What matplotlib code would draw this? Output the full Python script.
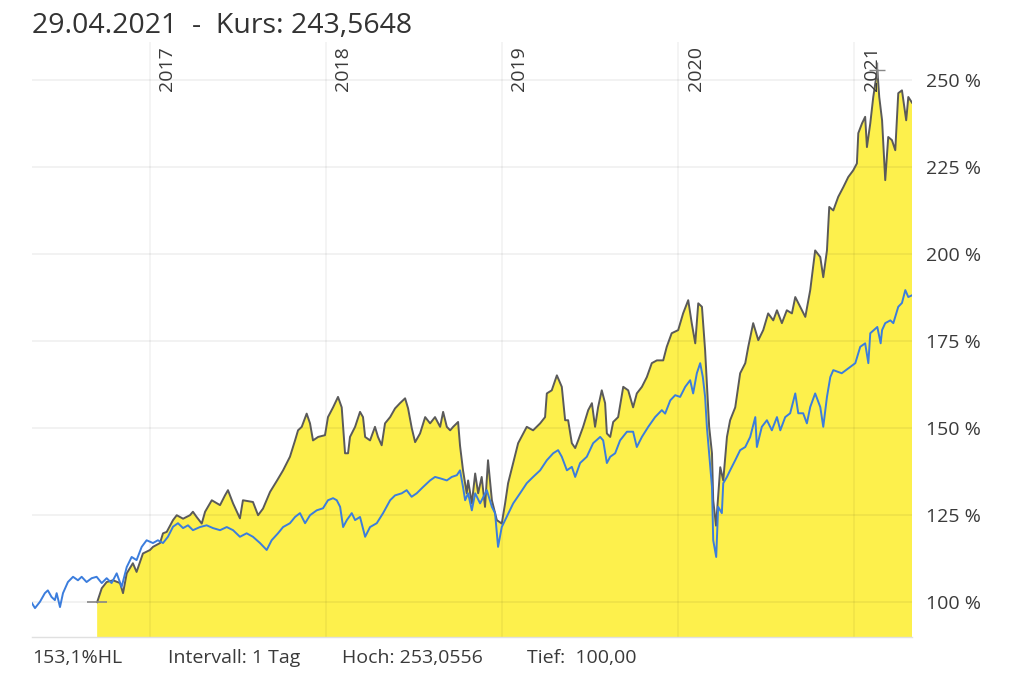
import matplotlib
matplotlib.use("Agg")
import matplotlib.pyplot as plt
import matplotlib.transforms as mtransforms
import numpy as np

plt.rcParams['font.family'] = ['Open Sans', 'DejaVu Sans']

#######################################
#### Data (decimal years, % of start)
#######################################
fund_t = [2016.700, 2016.726, 2016.754, 2016.790, 2016.830, 2016.847, 2016.868, 2016.903,
          2016.924, 2016.960, 2017.000, 2017.017, 2017.057, 2017.074, 2017.095, 2017.131,
          2017.152, 2017.188, 2017.227, 2017.244, 2017.265, 2017.294, 2017.313, 2017.351,
          2017.398, 2017.426, 2017.443, 2017.472, 2017.511, 2017.528, 2017.585, 2017.614,
          2017.642, 2017.682, 2017.722, 2017.756, 2017.795, 2017.824, 2017.841, 2017.862,
          2017.890, 2017.909, 2017.926, 2017.955, 2017.994, 2018.011, 2018.040, 2018.068,
          2018.089, 2018.108, 2018.125, 2018.136, 2018.165, 2018.193, 2018.210, 2018.222,
          2018.250, 2018.278, 2018.295, 2018.316, 2018.335, 2018.364, 2018.392, 2018.420,
          2018.449, 2018.466, 2018.487, 2018.506, 2018.534, 2018.563, 2018.591, 2018.619,
          2018.648, 2018.665, 2018.686, 2018.705, 2018.722, 2018.750, 2018.761, 2018.778,
          2018.799, 2018.807, 2018.828, 2018.847, 2018.864, 2018.884, 2018.903, 2018.920,
          2018.942, 2018.970, 2018.998, 2019.017, 2019.034, 2019.063, 2019.091, 2019.140,
          2019.176, 2019.216, 2019.244, 2019.254, 2019.282, 2019.311, 2019.339, 2019.358,
          2019.375, 2019.396, 2019.415, 2019.432, 2019.460, 2019.489, 2019.510, 2019.528,
          2019.545, 2019.566, 2019.585, 2019.595, 2019.614, 2019.631, 2019.659, 2019.688,
          2019.716, 2019.744, 2019.765, 2019.794, 2019.822, 2019.850, 2019.879, 2019.915,
          2019.935, 2019.963, 2020.000, 2020.028, 2020.057, 2020.077, 2020.097, 2020.114,
          2020.135, 2020.153, 2020.163, 2020.176, 2020.192, 2020.199, 2020.215, 2020.239,
          2020.256, 2020.277, 2020.295, 2020.324, 2020.352, 2020.381, 2020.398, 2020.426,
          2020.455, 2020.483, 2020.511, 2020.540, 2020.561, 2020.589, 2020.617, 2020.646,
          2020.665, 2020.693, 2020.722, 2020.750, 2020.778, 2020.807, 2020.824, 2020.845,
          2020.858, 2020.881, 2020.909, 2020.938, 2020.966, 2020.994, 2021.015, 2021.023,
          2021.044, 2021.062, 2021.072, 2021.091, 2021.108, 2021.131, 2021.142, 2021.158,
          2021.176, 2021.193, 2021.214, 2021.233, 2021.250, 2021.271, 2021.295, 2021.307,
          2021.328]
fund_v = [100.0, 104.0, 105.8, 106.3, 105.5, 102.6, 108.3, 111.2,
          108.7, 114.0, 115.0, 115.9, 117.0, 119.8, 120.2, 123.6,
          125.0, 124.0, 125.0, 126.0, 124.5, 122.6, 126.0, 129.3,
          127.9, 130.7, 132.2, 128.4, 124.1, 129.3, 128.8, 125.0,
          126.9, 131.7, 135.0, 137.9, 141.8, 146.5, 149.4, 150.4,
          154.2, 151.4, 146.5, 147.5, 148.0, 153.2, 156.0, 159.0,
          156.0, 142.8, 142.8, 147.5, 150.4, 154.7, 153.2, 147.5,
          146.5, 150.4, 147.5, 145.1, 151.4, 153.2, 155.7, 157.2,
          158.6, 155.7, 150.0, 146.0, 148.5, 153.2, 151.4, 153.2,
          150.4, 154.7, 150.4, 149.4, 150.4, 151.8, 145.0, 137.9,
          131.3, 135.0, 128.4, 137.0, 131.3, 136.0, 127.4, 140.8,
          129.3, 123.6, 122.6, 128.4, 134.2, 140.0, 145.7, 150.4,
          149.4, 151.4, 153.2, 160.0, 160.9, 165.2, 161.9, 152.3,
          152.3, 145.7, 144.3, 146.5, 150.4, 155.2, 157.2, 150.4,
          156.0, 160.9, 157.2, 148.5, 147.5, 151.8, 153.2, 161.9,
          160.9, 156.0, 160.0, 161.9, 164.7, 168.7, 169.5, 169.5,
          173.4, 177.3, 178.2, 183.0, 186.8, 180.2, 174.4, 185.9,
          184.9, 172.4, 162.9, 150.4, 142.8, 129.3, 122.0, 138.8,
          135.0, 147.5, 152.3, 156.0, 165.8, 168.7, 173.4, 180.2,
          175.3, 178.2, 183.0, 181.0, 183.9, 180.2, 183.9, 183.0,
          187.7, 184.9, 182.0, 189.7, 201.1, 199.2, 193.4, 201.1,
          213.6, 212.6, 216.5, 219.3, 222.2, 224.1, 226.1, 234.8,
          237.6, 239.5, 230.8, 237.6, 245.2, 253.06, 245.2, 238.5,
          221.3, 233.7, 232.8, 229.9, 246.3, 247.1, 238.5, 245.2,
          243.56]

bench_t = [2016.330, 2016.347, 2016.375, 2016.403, 2016.420, 2016.441, 2016.460, 2016.470,
           2016.489, 2016.506, 2016.534, 2016.563, 2016.591, 2016.612, 2016.640, 2016.669,
           2016.697, 2016.726, 2016.754, 2016.782, 2016.811, 2016.839, 2016.868, 2016.896,
           2016.924, 2016.953, 2016.981, 2017.017, 2017.045, 2017.074, 2017.102, 2017.131,
           2017.159, 2017.188, 2017.216, 2017.244, 2017.284, 2017.322, 2017.358, 2017.398,
           2017.436, 2017.472, 2017.511, 2017.549, 2017.585, 2017.625, 2017.663, 2017.691,
           2017.727, 2017.756, 2017.795, 2017.824, 2017.852, 2017.881, 2017.909, 2017.947,
           2017.983, 2018.011, 2018.040, 2018.061, 2018.080, 2018.097, 2018.118, 2018.146,
           2018.165, 2018.193, 2018.222, 2018.250, 2018.288, 2018.324, 2018.364, 2018.392,
           2018.430, 2018.458, 2018.486, 2018.515, 2018.551, 2018.591, 2018.619, 2018.648,
           2018.686, 2018.714, 2018.743, 2018.761, 2018.778, 2018.790, 2018.807, 2018.828,
           2018.847, 2018.875, 2018.913, 2018.942, 2018.960, 2018.977, 2018.998, 2019.026,
           2019.063, 2019.102, 2019.140, 2019.176, 2019.216, 2019.254, 2019.290, 2019.318,
           2019.339, 2019.368, 2019.396, 2019.415, 2019.443, 2019.481, 2019.517, 2019.557,
           2019.574, 2019.595, 2019.614, 2019.642, 2019.670, 2019.709, 2019.744, 2019.765,
           2019.794, 2019.830, 2019.869, 2019.907, 2019.926, 2019.955, 2019.983, 2020.011,
           2020.040, 2020.068, 2020.085, 2020.106, 2020.125, 2020.140, 2020.153, 2020.163,
           2020.176, 2020.192, 2020.199, 2020.216, 2020.227, 2020.248, 2020.256, 2020.277,
           2020.295, 2020.324, 2020.352, 2020.381, 2020.409, 2020.438, 2020.447, 2020.475,
           2020.504, 2020.532, 2020.561, 2020.580, 2020.608, 2020.636, 2020.665, 2020.682,
           2020.710, 2020.731, 2020.750, 2020.778, 2020.807, 2020.824, 2020.845, 2020.864,
           2020.881, 2020.929, 2020.966, 2021.006, 2021.034, 2021.062, 2021.080, 2021.091,
           2021.131, 2021.150, 2021.158, 2021.176, 2021.205, 2021.222, 2021.250, 2021.271,
           2021.290, 2021.307, 2021.328]
bench_v = [99.7, 98.3, 100.1, 102.6, 103.4, 101.5, 100.6, 102.6,
           98.6, 102.6, 105.8, 107.3, 106.3, 107.3, 105.8, 106.9,
           107.3, 105.5, 106.9, 105.5, 108.3, 104.4, 110.1, 113.0,
           112.1, 115.9, 117.8, 117.0, 117.8, 117.0, 118.8, 121.7,
           122.7, 121.3, 122.1, 120.7, 121.6, 122.1, 121.3, 120.7,
           121.6, 120.7, 118.8, 119.8, 118.8, 117.0, 115.0, 117.8,
           119.8, 121.6, 122.7, 124.5, 125.6, 122.7, 125.0, 126.4,
           127.0, 129.3, 129.9, 129.3, 127.4, 121.6, 123.6, 125.6,
           123.6, 124.5, 118.8, 121.6, 122.7, 125.6, 129.3, 130.7,
           131.3, 132.2, 130.3, 131.3, 133.1, 135.0, 136.0, 135.6,
           135.0, 136.0, 136.5, 137.9, 133.1, 129.3, 131.3, 126.4,
           131.3, 128.4, 132.2, 127.4, 125.6, 115.9, 121.6, 124.5,
           128.4, 131.3, 134.2, 136.0, 137.9, 140.8, 142.8, 143.7,
           141.8, 137.9, 138.9, 136.0, 140.0, 141.8, 145.7, 147.5,
           146.5, 140.0, 141.8, 142.8, 146.5, 149.0, 149.0, 144.6,
           147.5, 150.4, 153.2, 155.2, 154.2, 158.0, 159.5, 159.0,
           161.9, 163.8, 160.0, 165.8, 168.7, 164.7, 159.0, 150.4,
           142.8, 133.1, 117.8, 113.0, 127.4, 125.6, 134.2, 136.0,
           137.9, 140.8, 143.7, 144.6, 147.5, 153.2, 144.6, 150.4,
           152.3, 149.4, 153.2, 149.4, 153.2, 154.3, 160.0, 154.3,
           154.3, 151.4, 156.1, 160.0, 156.1, 150.4, 159.0, 164.7,
           166.7, 165.8, 167.2, 168.7, 173.4, 174.4, 168.7, 177.3,
           179.1, 174.4, 178.2, 180.2, 181.0, 180.2, 184.9, 186.0,
           189.7, 187.7, 188.2]

years = [2017, 2018, 2019, 2020, 2021]
yticks = [100, 125, 150, 175, 200, 225, 250]

title_txt = "29.04.2021  -  Kurs: 243,5648"
footer = ["153,1%HL", "Intervall: 1 Tag", "Hoch: 253,0556", "Tief:  100,00"]

#######################################
#### Plot
#######################################
YELLOW = "#fdf04c"
GRAY = "#5a5a5a"
BLUE = "#3b7ddd"
TXT = "#3a3a3a"

fig = plt.figure(figsize=(10.24, 6.8), dpi=100)
ax = fig.add_axes([32/1024, 43/680, 880/1024, 595/680])

ax.set_xlim(2016.33, 2021.328)
ax.set_ylim(90, 261)

ax.fill_between(fund_t, fund_v, 0, color=YELLOW, lw=0, zorder=1)

# grid drawn over the fill, only slightly darker
for y in yticks:
   ax.axhline(y, color="k", alpha=0.06, lw=1.2, zorder=2)
for yr in years:
   ax.axvline(yr, color="k", alpha=0.05, lw=1.2, zorder=2)

ax.plot(fund_t, fund_v, color=GRAY, lw=1.4, zorder=3)
ax.plot(bench_t, bench_v, color=BLUE, lw=1.4, zorder=4)

# start (low) and high markers
ax.plot([fund_t[0]], [min(fund_v)], marker="_", ms=14, mew=1.2, color="#888888", zorder=5)
imax = int(np.argmax(fund_v))
ax.plot([fund_t[imax]], [fund_v[imax]], marker="+", ms=11, mew=1.0, color="#888888", zorder=5)

for s in ["top", "left", "right"]:
   ax.spines[s].set_visible(False)
ax.spines["bottom"].set_color("#e0e0e0")
ax.spines["bottom"].set_linewidth(1.0)

ax.set_xticks([])
ax.yaxis.tick_right()
ax.set_yticks(yticks)
ax.set_yticklabels(["%d %%" % v for v in yticks], fontsize=14, color=TXT)
ax.tick_params(axis="y", length=0, pad=10)

# year labels at top, rotated
trans = mtransforms.offset_copy(ax.get_xaxis_transform(), fig=fig, x=6, y=-3, units="points")
for yr in years:
   ax.text(yr, 1.0, str(yr), transform=trans, rotation=90, ha="left", va="top",
           fontsize=14, color=TXT)

fig.text(32/1024, 1 - 26/680, title_txt, fontsize=20.5, color="#333333", va="center", ha="left")

foot_x = [32, 168, 342, 527]
for x, s in zip(foot_x, footer):
   fig.text(x/1024, 1 - 658/680, s, fontsize=14, color=TXT, va="center", ha="left")

fig.savefig("out.png", dpi=100, facecolor="white")
